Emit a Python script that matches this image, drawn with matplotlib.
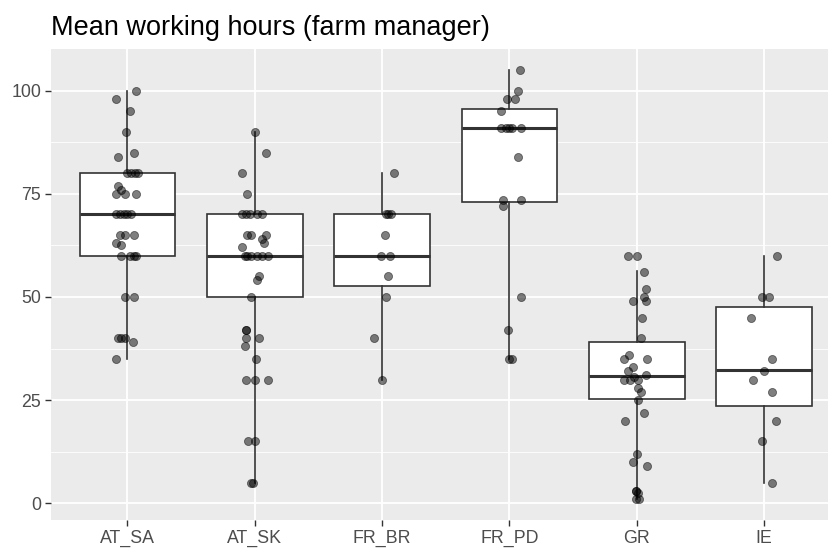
import matplotlib
matplotlib.use("Agg")
import matplotlib.pyplot as plt
from matplotlib.ticker import MultipleLocator

plt.rcParams['font.family'] = ['Liberation Sans', 'DejaVu Sans']

# groups on the x axis
groups = ['AT_SA', 'AT_SK', 'FR_BR', 'FR_PD', 'GR', 'IE']

# box statistics
q1 = [60, 50, 52.6, 72.9, 25.3, 23.6]
med = [70, 60, 60, 91, 30.8, 32.3]
q3 = [80, 70, 70, 95.6, 39.0, 47.6]
wlo = [35, 5, 30, 35, 1, 5]
whi = [100, 90, 80, 105, 56.2, 60]

# jittered points: hours and horizontal jitter (in category units)
at_sa = [100, 98, 95, 90, 85, 84, 80, 80, 80, 80, 77, 76, 75, 75, 75,
         70, 70, 70, 70, 70, 65, 65, 65, 63, 62.5, 60, 60, 60, 60,
         50, 50, 40, 40, 40, 39, 35]
at_sa_j = [0.07, -0.09, 0.02, -0.01, 0.05, -0.07, 0.0, 0.03, 0.06, 0.08,
           -0.07, -0.05, -0.09, -0.02, 0.07, -0.09, -0.06, -0.03, 0.0, 0.03,
           -0.06, -0.02, 0.05, -0.09, -0.05, -0.05, 0.02, 0.05, 0.07,
           -0.02, 0.05, -0.07, -0.05, -0.02, 0.04, -0.09]

at_sk = [90, 85, 80, 75, 70, 70, 70, 70, 70, 65, 65, 65, 64, 63, 62,
         60, 60, 60, 60, 60, 60, 55, 54, 50, 42, 42, 40, 40, 38, 35,
         30, 30, 30, 15, 15, 5, 5]
at_sk_j = [0.0, 0.09, -0.10, -0.06, -0.10, -0.07, -0.04, 0.02, 0.06,
           -0.06, -0.03, 0.09, 0.06, 0.07, -0.10,
           -0.08, -0.06, -0.03, 0.02, 0.06, 0.10, 0.03, 0.02, -0.03,
           -0.07, -0.07, -0.07, 0.03, -0.08, 0.01,
           -0.07, 0.0, 0.10, -0.05, 0.0, -0.03, -0.01]

fr_br = [80, 70, 70, 70, 65, 60, 60, 55, 50, 40, 30]
fr_br_j = [0.09, 0.03, 0.05, 0.07, 0.02, -0.01, 0.06, 0.05, 0.03, -0.06, 0.0]

fr_pd = [105, 100, 98, 98, 95, 91, 91, 91, 91, 91, 84, 73.4, 73.4, 72,
         50, 42, 35, 35]
fr_pd_j = [0.08, 0.07, -0.02, 0.04, -0.07, -0.07, -0.03, 0.0, 0.02, 0.09,
           0.07, -0.05, 0.09, -0.05, 0.09, -0.01, 0.0, 0.02]

gr = [60, 60, 56, 52, 50, 49, 49, 45, 40, 36, 35, 35, 33, 32, 31,
      30, 30, 30, 30.5, 28, 27, 25, 22, 20, 12, 10, 9, 3, 3, 2.5, 1, 1]
gr_j = [-0.07, 0.0, 0.06, 0.07, 0.06, 0.07, -0.03, 0.04, 0.03, -0.06,
        -0.10, 0.08, -0.03, -0.07, 0.07, -0.10, -0.05, 0.01, -0.02,
        0.01, 0.03, 0.01, 0.06, -0.09, 0.0, -0.03, 0.08, -0.01, -0.01,
        0.01, 0.02, -0.01]

ie = [60, 50, 50, 45, 35, 32, 30, 27, 20, 15, 5]
ie_j = [0.10, -0.02, 0.04, -0.10, 0.06, 0.0, -0.09, 0.06, 0.09, -0.02, 0.06]

points = [at_sa, at_sk, fr_br, fr_pd, gr, ie]
jitter = [at_sa_j, at_sk_j, fr_br_j, fr_pd_j, gr_j, ie_j]

fig = plt.figure(figsize=(8.29, 5.52), dpi=100)
ax = fig.add_axes([51/829, 32/552, 789.6/829, 471/552])
ax.set_facecolor('#EBEBEB')

stats = []
for i, g in enumerate(groups):
    stats.append({'label': g, 'q1': q1[i], 'med': med[i], 'q3': q3[i],
                  'whislo': wlo[i], 'whishi': whi[i], 'fliers': []})
pos = list(range(1, len(groups) + 1))
ax.bxp(stats, positions=pos, widths=0.75, patch_artist=True,
       showcaps=False, showfliers=False,
       boxprops=dict(facecolor='white', edgecolor='#333333', linewidth=1.2),
       whiskerprops=dict(color='#333333', linewidth=1.2),
       medianprops=dict(color='#333333', linewidth=2.2),
       zorder=2)

for i in range(len(groups)):
    xs = [pos[i] + j for j in jitter[i]]
    ax.scatter(xs, points[i], s=34, color='black', alpha=0.5,
               edgecolors='black', linewidths=0.6, zorder=3)

ax.set_xlim(0.4, 6.6)
ax.set_ylim(-4.05, 110.1)
ax.set_xticks(pos)
ax.set_xticklabels(groups)
ax.yaxis.set_major_locator(MultipleLocator(25))
ax.yaxis.set_minor_locator(MultipleLocator(12.5))
ax.grid(which='major', color='white', linewidth=1.3)
ax.grid(which='minor', axis='y', color='white', linewidth=0.6)
ax.set_axisbelow(True)
for s in ax.spines.values():
    s.set_visible(False)
ax.tick_params(which='major', length=4, width=1.0, color='#333333',
               labelcolor='#4D4D4D', labelsize=12.8, pad=3)
ax.tick_params(which='minor', length=0)

fig.text(51/829, 1 - 35/552, 'Mean working hours (farm manager)',
         fontsize=19.5, color='black', ha='left', va='baseline')

fig.savefig('out.png', dpi=100)
